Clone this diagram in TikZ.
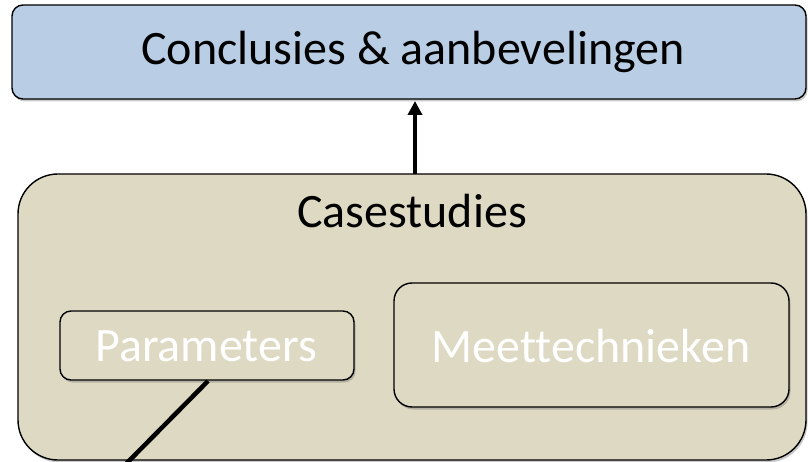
\documentclass[tikz,border=0pt]{standalone}
\usepackage{fontspec}
\setmainfont[Ligatures=NoCommon]{Carlito}
\usetikzlibrary{shadows,arrows.meta}
\definecolor{topblue}{HTML}{B9CDE5}
\definecolor{khaki}{HTML}{DDD9C3}
\tikzset{
  boxshadow/.style={drop shadow={shadow xshift=1.5pt,shadow yshift=-2.5pt,opacity=0.35,fill=black!60}},
  topbox/.style={draw=black,line width=1.4pt,fill=topblue,rounded corners=11pt,boxshadow},
  casebox/.style={draw=black,line width=1.4pt,fill=khaki,rounded corners=40pt,boxshadow},
  innerbox/.style={draw=black,line width=1.4pt,fill=khaki,rounded corners=#1,boxshadow},
  bigtext/.style={font=\fontsize{48}{50}\selectfont},
  conn/.style={line width=4.5pt,black},
}
\begin{document}
\begin{tikzpicture}[x=1pt,y=-1pt]
\useasboundingbox (0,0) rectangle (808,462);
% top box
\draw[topbox] (12,5) rectangle (806,99);
\node[bigtext,anchor=center] (concl) at (413,52) {Conclusies \& aanbevelingen};
\coordinate (conclbottom) at (415,101);
% case studies box
\draw[casebox] (18,174) rectangle (806,460);
\coordinate (casetop) at (415,174);
\node[bigtext] (case) at (412,211) {Casestudies};
% inner boxes
\draw[innerbox=11pt] (60,311) rectangle (354,380);
\node[bigtext,text=white] (param) at (206,346) {Parameters};
\coordinate (parambottom) at (208,381);
\draw[innerbox=18pt] (394,283) rectangle (789,407);
\node[bigtext,text=white] (meet) at (591,346) {Meettechnieken};
% connectors
\draw[conn,-{Triangle[length=14pt,width=14pt]}] (casetop) -- (conclbottom);
\coordinate (freeend) at (120,470);
\draw[conn] (parambottom) -- (freeend);
\end{tikzpicture}
\end{document}
